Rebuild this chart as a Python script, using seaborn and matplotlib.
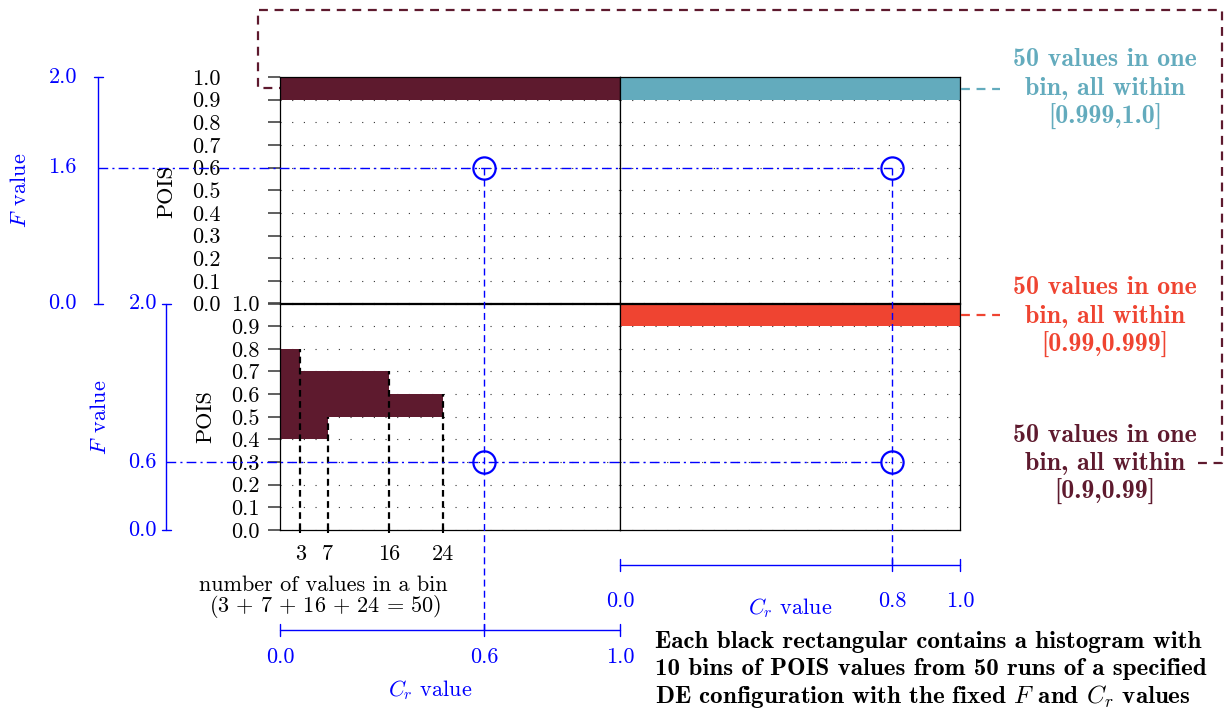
import numpy as np
import pandas as pd
import seaborn as sns
import matplotlib.pyplot as plt

# POIS histograms: 10 bins, 50 runs per DE configuration
bin_edges = [0.0, 0.1, 0.2, 0.3, 0.4, 0.5, 0.6, 0.7, 0.8, 0.9, 1.0]
bin_centers = [0.05, 0.15, 0.25, 0.35, 0.45, 0.55, 0.65, 0.75, 0.85, 0.95]
counts_f16_cr06 = [0, 0, 0, 0, 0, 0, 0, 0, 0, 50]
counts_f16_cr08 = [0, 0, 0, 0, 0, 0, 0, 0, 0, 50]
counts_f06_cr06 = [0, 0, 0, 0, 7, 24, 16, 3, 0, 0]
counts_f06_cr08 = [0, 0, 0, 0, 0, 0, 0, 0, 0, 50]

f_values = [1.6, 0.6]        # rows (top, bottom)
cr_values = [0.6, 0.8]       # columns (left, right)
marker_level = [0.6, 0.3]    # POIS level where the F value is drawn
bin_labels = [3, 7, 16, 24]

maroon = '#5e1a2e'
teal = '#63abbd'
red = '#ef4431'
blue = '#0000ff'

sns.set_theme(style='white')
plt.rcParams['font.family'] = ['cmr10', 'DejaVu Serif']
plt.rcParams['mathtext.fontset'] = 'cm'
plt.rcParams['axes.formatter.use_mathtext'] = True
plt.rcParams['text.color'] = 'black'
plt.rcParams['xtick.labelcolor'] = 'black'
plt.rcParams['ytick.labelcolor'] = 'black'

W, H = 1231, 711
fig = plt.figure(figsize=(W / 100, H / 100), dpi=100)

# layout of the 2x2 block, in pixels
X0, CW = 280, 340
Y0, RH = 77, 226.5

counts = [[counts_f16_cr06, counts_f16_cr08], [counts_f06_cr06, counts_f06_cr08]]
colors = [[maroon, teal], [maroon, red]]

for row in range(2):
    for col in range(2):
        left = X0 + col * CW
        top = Y0 + row * RH
        ax = fig.add_axes([left / W, 1 - (top + RH) / H, CW / W, RH / H])
        c = colors[row][col]
        hist = pd.DataFrame({'POIS': bin_centers, 'n': counts[row][col]})
        sns.histplot(data=hist, y='POIS', weights='n', bins=bin_edges, ax=ax,
                     color=c, alpha=1, edgecolor=c, linewidth=0)
        ax.set_xlim(0, 50)
        ax.set_ylim(0, 1)
        ax.set_xlabel('')
        ax.set_ylabel('')
        ax.set_yticks(bin_edges)
        ax.yaxis.grid(True, linestyle=(0, (1, 9.5)), color='#333333', lw=0.8)
        ax.set_axisbelow(True)
        for s in ax.spines.values():
            s.set_color('black')
            s.set_linewidth(0.9)
        if col == 0:
            ax.set_yticklabels([f'{v:.1f}' for v in bin_edges], fontsize=16)
            pad = 34 if row == 0 else 6
            ax.tick_params(axis='y', length=8.6, width=1.2, color='#444444',
                           labelcolor='black', pad=pad, left=True)
        else:
            ax.set_yticklabels([])
            ax.tick_params(axis='y', length=0)
        if row == 1 and col == 0:
            ax.set_xticks(bin_labels)
            ax.set_xticklabels([str(v) for v in bin_labels], fontsize=16)
            ax.tick_params(axis='x', length=5, width=1.5, direction='inout', color='black',
                           labelcolor='black', pad=8, bottom=True)
            tops = [bin_edges[i + 1] for i, v in enumerate(counts_f06_cr06) if v > 0]
            vals = [v for v in counts_f06_cr06 if v > 0]
            ax.vlines(vals, 0, tops, colors='black', linestyles=(0, (3, 2)), lw=1.6, zorder=4)
        else:
            ax.set_xticks([])
        ax.plot(cr_values[col] * 50, marker_level[row], marker='o', ms=16, mfc='none',
                mec=blue, mew=1.6, clip_on=False, zorder=6)

# overlay in pixel coordinates for the schematic axes and annotations
ov = fig.add_axes([0, 0, 1, 1], zorder=10)
ov.set_xlim(0, W)
ov.set_ylim(H, 0)
ov.axis('off')
ov.patch.set_alpha(0)

y_top_mark = Y0 + (1 - marker_level[0]) * RH
y_bot_mark = Y0 + RH + (1 - marker_level[1]) * RH
x_left_mark = X0 + cr_values[0] * CW
x_right_mark = X0 + CW + cr_values[1] * CW

# F value axes
for x, y1, y2, ymid, fv, lx, labx, laby in [
        (98, Y0, Y0 + RH, y_top_mark, f_values[0], 77, 20, 190),
        (166, Y0 + RH, Y0 + 2 * RH, y_bot_mark, f_values[1], 157, 100, 417)]:
    ov.plot([x, x], [y1, y2], color=blue, lw=1)
    for yy in (y1, y2):
        ov.plot([x - 4, x + 5], [yy, yy], color=blue, lw=1)
    for yy, t in [(y1, '2.0'), (ymid, f'{fv:.1f}'), (y2, '0.0')]:
        ov.text(lx, yy, t, color=blue, fontsize=16, ha='right', va='center')
    ov.text(labx, laby, r'$F\;\,$value', color=blue, fontsize=16, rotation=90, ha='center', va='center')

# dash-dotted F guides and dashed Cr guides
ov.plot([98, x_right_mark], [y_top_mark, y_top_mark], color=blue, lw=1, ls=(0, (7, 3, 1.5, 3)))
ov.plot([166, x_right_mark], [y_bot_mark, y_bot_mark], color=blue, lw=1, ls=(0, (7, 3, 1.5, 3)))
ov.plot([x_left_mark, x_left_mark], [y_top_mark, 633], color=blue, lw=1, ls=(0, (5, 3)))
ov.plot([x_right_mark, x_right_mark], [y_top_mark, 565], color=blue, lw=1, ls=(0, (5, 3)))

# Cr value axes
for x1, y, xm, cv, ly, cx, cy in [(X0, 630, x_left_mark, cr_values[0], 657, 430, 690),
                                  (X0 + CW, 565, x_right_mark, cr_values[1], 601, 790, 608)]:
    ov.plot([x1, x1 + CW], [y, y], color=blue, lw=1)
    for xx in (x1, x1 + CW, xm):
        ov.plot([xx, xx], [y - 6, y + 6], color=blue, lw=1)
    for xx, t in [(x1, '0.0'), (xm, f'{cv:.1f}'), (x1 + CW, '1.0')]:
        ov.text(xx, ly, t, color=blue, fontsize=16, ha='center', va='center')
    ov.text(cx, cy, r'$C_r$ value', color=blue, fontsize=16, ha='center', va='center')

# POIS labels
ov.text(167, 192, 'POIS', fontsize=16, rotation=90, ha='center', va='center')
ov.text(206, 417, 'POIS', fontsize=16, rotation=90, ha='center', va='center')

# bin count caption
ov.text(323, 585, 'number of values in a bin', fontsize=16, ha='center', va='center')
ov.text(325, 607, r'$(3\,+\,7\,+\,16\,+\,24\,=\,50)$', fontsize=16, ha='center', va='center')

# connectors to annotations
ov.plot([1198, 1222, 1222, 258, 258, 280], [463, 463, 10, 10, 88, 88],
        color=maroon, lw=1.6, ls=(0, (4, 3)))
ov.plot([961, 1000], [89, 89], color=teal, lw=1.6, ls=(0, (4, 3)))
ov.plot([961, 1000], [315, 315], color=red, lw=1.6, ls=(0, (4, 3)))

ann = [('[0.999,1.0]', teal, 60), ('[0.99,0.999]', red, 288), ('[0.9,0.99]', maroon, 435)]
for rng, c, y in ann:
    for i, line in enumerate(['50 values in one', 'bin, all within', rng]):
        ov.text(1105, y + i * 28.5, line, color=c, fontsize=18.7, family='cmb10',
                ha='center', va='center')

note = ['Each black rectangular contains a histogram with',
        '10 bins of POIS values from 50 runs of a specified',
        r'DE configuration with the fixed $F$ and $C_r$ values']
for i, line in enumerate(note):
    ov.text(655, 642 + i * 27.5, line, fontsize=18.0, family='cmb10', ha='left', va='center')

fig.savefig('out.png', dpi=100)
